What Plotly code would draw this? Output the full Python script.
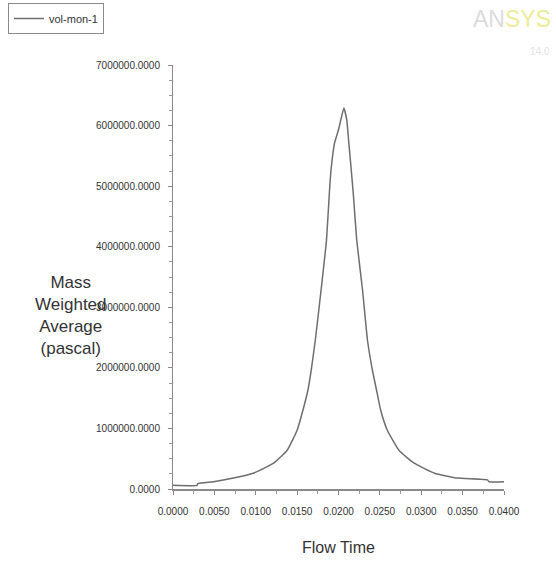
import plotly.graph_objects as go

flow_time = [0.0000, 0.0029, 0.0030, 0.0049, 0.0073, 0.0097, 0.0122, 0.0138,
             0.0150, 0.0157, 0.0163, 0.0167, 0.0172, 0.0179, 0.01855, 0.0189,
             0.0191, 0.01952, 0.0200, 0.02065, 0.0210, 0.02125, 0.02154, 0.0218,
             0.0222, 0.0229, 0.0235, 0.0241, 0.0246, 0.0251, 0.0259, 0.0273,
             0.0291, 0.0316, 0.0344, 0.0380, 0.0382, 0.0400]
pressure = [60000, 60000, 90000, 120000, 180000, 260000, 430000, 640000,
            970000, 1300000, 1630000, 1960000, 2460000, 3290000, 4110000, 4900000,
            5270000, 5710000, 5930000, 6290000, 6090000, 5710000, 5270000, 4850000,
            4110000, 3290000, 2460000, 1960000, 1630000, 1300000, 970000, 640000,
            430000, 260000, 180000, 150000, 120000, 120000]

x_ticks = [0.0, 0.005, 0.01, 0.015, 0.02, 0.025, 0.03, 0.035, 0.04]
y_ticks = [0, 1000000, 2000000, 3000000, 4000000, 5000000, 6000000, 7000000]

series_name = "vol-mon-1"
x_title = "Flow Time"
y_title = "Mass<br>Weighted<br>Average<br>(pascal)"

W, H = 556, 562
L, R, T, B = 173, 52, 65, 73
PW, PH = W - L - R, H - T - B

fig = go.Figure()
fig.add_trace(go.Scatter(x=flow_time, y=pressure, mode="lines", name=series_name,
                         line=dict(color="#6e6e6e", width=1.5, shape="spline", smoothing=0.4),
                         showlegend=True))

font_fam = "Liberation Sans, Arial, sans-serif"
fig.update_layout(
    width=W, height=H,
    margin=dict(l=L, r=R, t=T, b=B, pad=0, autoexpand=False),
    paper_bgcolor="white", plot_bgcolor="white",
    font=dict(family=font_fam, color="#333333", size=10),
    showlegend=True,
    legend=dict(xref="container", yref="container", x=8 / W, y=1 - 3 / H,
                xanchor="left", yanchor="top",
                bordercolor="#8a8a8a", borderwidth=1, bgcolor="white",
                font=dict(size=11, color="#333333", family=font_fam),
                itemwidth=30, tracegroupgap=0),
    xaxis=dict(range=[0, 0.04], tickvals=x_ticks, tickformat=".4f",
               showgrid=False, zeroline=False, showline=True, linecolor="#8a8a8a", linewidth=2,
               ticks="outside", ticklen=4, tickcolor="#8a8a8a", tickwidth=1,
               minor=dict(dtick=0.0025, ticks="outside", ticklen=3, tickcolor="#9a9a9a", showgrid=False),
               tickfont=dict(size=10, color="#333333"), ticklabelstandoff=8),
    yaxis=dict(range=[0, 7000000], tickvals=y_ticks, tickformat=".4f",
               showgrid=False, zeroline=False, showline=True, linecolor="#8a8a8a", linewidth=1,
               ticks="outside", ticklen=4, tickcolor="#8a8a8a", tickwidth=1,
               minor=dict(dtick=250000, ticks="outside", ticklen=3, tickcolor="#9a9a9a", showgrid=False),
               tickfont=dict(size=10, color="#333333"), ticklabelstandoff=6),
)

fig.add_annotation(text=y_title, xref="paper", yref="paper", x=0, y=0.41,
                   xanchor="right", yanchor="middle", xshift=-64, align="center",
                   showarrow=False, font=dict(size=17, color="#333333", family=font_fam))
fig.add_annotation(text=x_title, xref="paper", yref="paper", x=(338 - L) / PW, y=0,
                   xanchor="center", yanchor="middle", yshift=-58,
                   showarrow=False, font=dict(size=16, color="#333333", family=font_fam))
# faint logo
fig.add_annotation(text="<span style='color:#dcdcdc'>AN</span><span style='color:#ecec9a'>SYS</span>",
                   xref="paper", yref="paper", x=1 + (553 - (W - R)) / PW, y=1 + (T - 4) / PH,
                   xanchor="right", yanchor="top", showarrow=False,
                   font=dict(size=23, family="Liberation Sans Narrow, Arial Narrow, Liberation Sans, sans-serif"))
fig.add_annotation(text="14.0", xref="paper", yref="paper",
                   x=1 + (552 - (W - R)) / PW, y=1 + (T - 44) / PH,
                   xanchor="right", yanchor="top", showarrow=False,
                   font=dict(size=10, color="#e2e2e2", family=font_fam))

fig.write_html("out.html", config={"displayModeBar": False},
               post_script="document.body.style.margin='0';")
